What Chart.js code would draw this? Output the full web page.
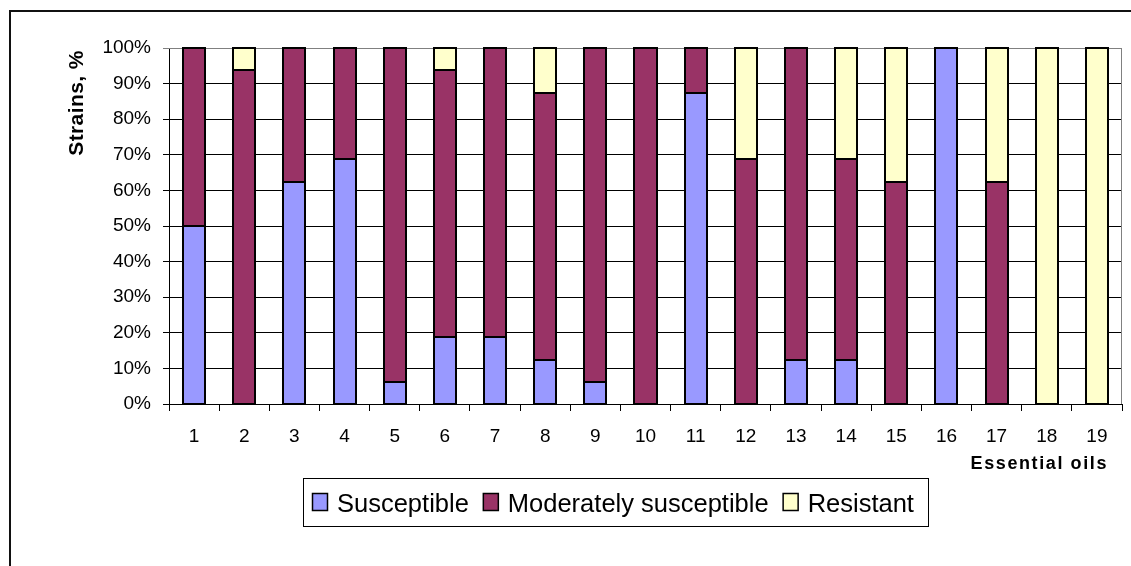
<!DOCTYPE html>
<html>
<head>
<meta charset="utf-8">
<script src="https://cdn.jsdelivr.net/npm/chart.js@4/dist/chart.umd.min.js"></script>
<style>
  html, body { margin: 0; padding: 0; background: #fff; }
  canvas { display: block; }
</style>
</head>
<body>
<canvas id="chart" width="1131" height="566" style="width:1131px;height:566px"></canvas>
<script>
// Essential oils tested (1–19) and share of strains in each susceptibility class, %
const categories = ['1','2','3','4','5','6','7','8','9','10','11','12','13','14','15','16','17','18','19'];
const susceptible = [50, 0, 62.5, 68.75, 6.25, 18.75, 18.75, 12.5, 6.25, 0, 87.5, 0, 12.5, 12.5, 0, 100, 0, 0, 0];
const moderatelySusceptible = [50, 93.75, 37.5, 31.25, 93.75, 75, 81.25, 75, 93.75, 100, 12.5, 68.75, 87.5, 56.25, 62.5, 0, 62.5, 0, 0];
const resistant = [0, 6.25, 0, 0, 0, 6.25, 0, 12.5, 0, 0, 0, 31.25, 0, 31.25, 37.5, 0, 37.5, 100, 100];
const seriesNames = ['Susceptible', 'Moderately susceptible', 'Resistant'];
const seriesColors = ['#9999FF', '#993366', '#FFFFCC'];
const yTickValues = [0, 10, 20, 30, 40, 50, 60, 70, 80, 90, 100];
const yTitle = 'Strains, %';
const xTitle = 'Essential oils';

const FONT = "'Liberation Sans', Arial, Helvetica, sans-serif";
Chart.defaults.font.family = FONT;
Chart.defaults.color = '#000';

// empty segments are left out instead of drawn as zero-height bars
const seg = arr => arr.map(v => (v > 0 ? v : null));

const datasets = [susceptible, moderatelySusceptible, resistant].map((arr, i) => ({
  label: seriesNames[i],
  data: seg(arr),
  backgroundColor: seriesColors[i],
  borderColor: '#000',
  borderWidth: 0,
  categoryPercentage: 1,
  barPercentage: 0.44
}));

// black outline centred on each bar segment's edges, shared between stacked segments
const barOutlines = {
  id: 'barOutlines',
  afterDatasetsDraw(chart) {
    const { ctx } = chart;
    ctx.save();
    ctx.strokeStyle = '#000';
    ctx.lineWidth = 2;
    chart.data.datasets.forEach((ds, di) => {
      const meta = chart.getDatasetMeta(di);
      meta.data.forEach((bar, i) => {
        if (ds.data[i] == null) return;
        const { x, y, base, width } = bar.getProps(['x', 'y', 'base', 'width'], true);
        const l = Math.round(x - width / 2);
        const r = Math.round(x + width / 2);
        const t = Math.round(Math.min(y, base));
        const b = Math.round(Math.max(y, base));
        ctx.strokeRect(l, t, r - l, b - t);
      });
    });
    ctx.restore();
  }
};

// outer frame, plot border, axis titles and boxed legend
const decorations = {
  id: 'decorations',
  beforeDatasetsDraw(chart) {
    const { ctx, chartArea: a } = chart;
    ctx.save();
    ctx.strokeStyle = '#808080';
    ctx.lineWidth = 1;
    ctx.beginPath();
    ctx.moveTo(a.left, a.top + 0.5);
    ctx.lineTo(a.right - 0.5, a.top + 0.5);
    ctx.lineTo(a.right - 0.5, a.bottom);
    ctx.stroke();
    ctx.restore();
  },
  afterDraw(chart) {
    const { ctx } = chart;
    ctx.save();
    // chart frame
    ctx.strokeStyle = '#111';
    ctx.lineWidth = 2;
    ctx.beginPath();
    ctx.moveTo(10, 566);
    ctx.lineTo(10, 11);
    ctx.lineTo(1131, 11);
    ctx.stroke();

    ctx.fillStyle = '#000';
    // y axis title
    ctx.save();
    ctx.font = 'bold 21px ' + FONT;
    ctx.letterSpacing = '0.4px';
    ctx.translate(83, 103);
    ctx.rotate(-Math.PI / 2);
    ctx.textAlign = 'center';
    ctx.textBaseline = 'alphabetic';
    ctx.fillText(yTitle, 0, 0);
    ctx.restore();

    // x axis title
    ctx.save();
    ctx.font = 'bold 18px ' + FONT;
    ctx.letterSpacing = '1.6px';
    ctx.textAlign = 'right';
    ctx.textBaseline = 'alphabetic';
    ctx.fillText(xTitle, 1108, 469);
    ctx.restore();

    // legend
    ctx.save();
    ctx.strokeStyle = '#000';
    ctx.lineWidth = 1;
    ctx.fillStyle = '#fff';
    ctx.fillRect(303.5, 478.5, 625, 48);
    ctx.strokeRect(303.5, 478.5, 625, 48);
    ctx.font = '25.5px ' + FONT;
    ctx.textBaseline = 'alphabetic';
    ctx.textAlign = 'left';
    let x = 312;
    chart.data.datasets.forEach(ds => {
      ctx.fillStyle = ds.backgroundColor;
      ctx.fillRect(x + 0.5, 493.5, 15, 17);
      ctx.strokeStyle = '#000';
      ctx.lineWidth = 1.5;
      ctx.strokeRect(x + 0.5, 493.5, 15, 17);
      ctx.fillStyle = '#000';
      ctx.fillText(ds.label, x + 25, 512);
      x += 25 + ctx.measureText(ds.label).width + 14;
    });
    ctx.restore();
    ctx.restore();
  }
};

new Chart(document.getElementById('chart'), {
  type: 'bar',
  data: { labels: categories, datasets },
  options: {
    responsive: false,
    animation: false,
    devicePixelRatio: 1,
    layout: { padding: { left: 0, top: 48, right: 9, bottom: 0 } },
    plugins: { legend: { display: false }, tooltip: { enabled: false } },
    scales: {
      x: {
        stacked: true,
        afterFit(scale) { scale.height = 162; },
        grid: {
          offset: true,
          drawOnChartArea: false,
          drawTicks: true,
          tickLength: 7,
          color: '#000',
          lineWidth: 1
        },
        border: { display: true, color: '#000', width: 1 },
        ticks: {
          autoSkip: false,
          maxRotation: 0,
          padding: 14,
          font: { size: 19 },
          color: '#000'
        }
      },
      y: {
        stacked: true,
        min: 0,
        max: 100,
        afterFit(scale) { scale.width = 169; },
        afterBuildTicks(scale) { scale.ticks = yTickValues.map(v => ({ value: v })); },
        grid: {
          drawTicks: true,
          tickLength: 6,
          lineWidth: 1,
          color: c => (c.tick && c.tick.value === 100 ? '#808080' : '#000')
        },
        border: { display: true, color: '#000', width: 1 },
        ticks: {
          padding: 12,
          font: { size: 19 },
          color: '#000',
          callback: v => v + '%'
        }
      }
    }
  },
  plugins: [barOutlines, decorations]
});
</script>
</body>
</html>
